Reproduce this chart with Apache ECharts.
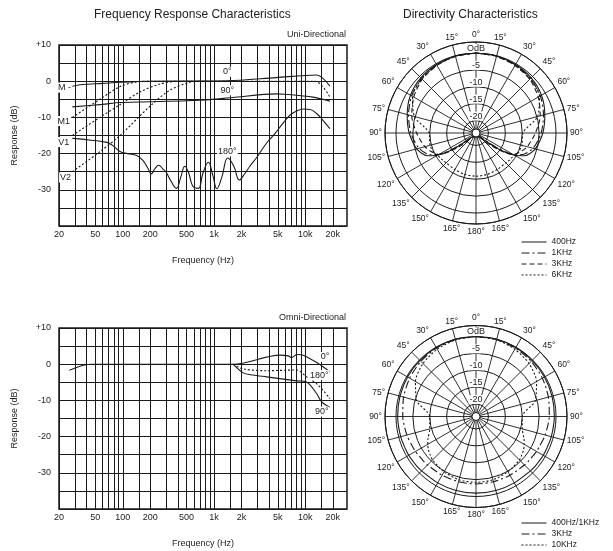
<!DOCTYPE html>
<html>
<head>
<meta charset="utf-8">
<script src="https://cdn.jsdelivr.net/npm/echarts@6/dist/echarts.min.js"></script>
<style>
html, body { margin: 0; padding: 0; background: #fff; }
#main { width: 613px; height: 551px; }
</style>
</head>
<body>
<div id="main"></div>
<script>
// frequency axis: labelled ticks and the log-paper lines
var tickFreqs = [20, 50, 100, 200, 500, 1000, 2000, 5000, 10000, 20000];
var tickLabels = ['20', '50', '100', '200', '500', '1k', '2k', '5k', '10k', '20k'];
var gridFreqs = [20, 30, 40, 50, 60, 70, 80, 90, 100, 150, 200, 300, 400, 500, 600, 700, 800, 900,
    1000, 1500, 2000, 3000, 4000, 5000, 6000, 7000, 8000, 9000, 10000, 15000, 20000];
var dbTicks = [10, 0, -10, -20, -30];

// uni-directional response [Hz, dB]
var uni0 = [[28, -1.4], [36, -0.9], [60, -0.6], [93, -0.3], [200, 0], [1400, 0.1], [4800, 1.0], [13300, 1.7], [18600, -1.4]];
var uni90 = [[28, -7.1], [60, -6.4], [93, -5.9], [500, -5.4], [900, -5.1], [1600, -4.5], [4800, -3.5], [6000, -3.6], [12100, -4.4], [18600, -5.5]];
var uni180 = [[28, -15.8], [45, -16.3], [67, -16.9], [78, -17.8], [93, -19.4], [113, -20], [142, -20.5], [165, -21.8],
    [190, -24.2], [205, -25.6], [224, -24.2], [248, -23.2], [274, -24.2], [296, -25], [336, -27.5], [386, -29.6],
    [432, -26.5], [478, -23.5], [529, -25.5], [585, -29], [672, -29.6], [753, -25.5], [865, -22.4], [969, -26],
    [1072, -29.7], [1216, -26.5], [1416, -21.2], [1647, -23.5], [1892, -27.3], [2174, -25.5], [2466, -23.5],
    [2944, -21], [3788, -17], [4638, -14.5], [5534, -12], [6770, -9.4], [8082, -8.2], [9642, -7.7],
    [11220, -7.8], [13390, -9], [15580, -10.8], [18590, -13.1]];
var cutM1 = [[28, -10], [56, -5], [93, -1.5], [135, -0.3], [197, 0], [12700, 0], [18600, -4.4]];
var cutV1 = [[28, -15], [56, -10], [93, -6.5], [153, -3], [254, -0.8], [371, 0]];
var cutV2 = [[28, -25], [56, -19.5], [93, -15], [197, -7], [327, -2.5], [542, -0.3], [698, 0]];

// omni-directional response [Hz, dB]
var omni0 = [[26, -1.7], [37, -0.3], [47, 0], [1620, 0], [5260, 2.5], [6490, 2.3], [7070, 1.8], [8020, 2.7], [9480, 2.5], [13840, 0.2], [18590, -2.1]];
var omni90 = [[1620, 0], [2080, -2.4], [2660, -3], [3760, -3.5], [8020, -4.6], [10320, -4.9], [13290, -8.1], [15080, -10.4], [18590, -11.9]];
var omni180 = [[1620, 0], [2080, -1.3], [3760, -1.8], [8020, -1.6], [10320, -3.5], [13840, -5.8], [18590, -9.5]];

// directivity, dB at each angle (mirrored for the other side)
var polarAngles = [0, 15, 30, 45, 60, 75, 90, 105, 115, 120, 125, 130, 135, 150, 165, 180];
var uni400 = [0, -0.1, -0.3, -0.6, -1.3, -2.6, -3.9, -5.5, -7.8, -10.5, -15, -20, -22, -22.5, -22.5, -22.5];
var uni1k = [0, -0.1, -0.4, -0.9, -1.7, -3.0, -4.4, -6.2, -8.6, -11, -16, -21, -22.5, -22.5, -22.5, -22.5];
var uni3k = [0, -0.2, -0.6, -1.2, -2.4, -4.0, -6.1, -8.0, -9.8, -11, -14, -18, -21, -22.5, -22.5, -22.5];
var uni6k = [0, -0.2, -0.5, -1.0, -2.0, -4.8, -9.8, -9.6, -10, -10.5, -10.8, -11, -11.2, -11.2, -11, -10.9];
var omni400 = [0, 0, -0.1, -0.2, -0.3, -0.4, -0.5, -0.6, -0.7, -0.7, -0.8, -0.8, -0.9, -1, -1, -1];
var omni3k = [0, -0.1, -0.3, -0.6, -1.0, -1.5, -2.0, -2.5, -2.9, -3.0, -3.2, -3.3, -3.4, -3.6, -3.7, -3.7];
var omni10k = [0, -0.2, -0.7, -1.5, -3.0, -5.5, -10, -9.5, -8, -7.2, -6.5, -6, -5.5, -4.8, -4.3, -4.2];
var ringValues = [0, -5, -10, -15, -20];
var ringNames = ['OdB', '-5', '-10', '-15', '-20'];

var FONT = 'Liberation Sans, Arial, sans-serif';
var INK = '#1a1a1a';
var NONE = 'rgba(0,0,0,0)';

function loop(p) {
    var out = [];
    polarAngles.forEach(function (a, i) { out.push([p[i], a]); });
    for (var i = polarAngles.length - 2; i >= 0; i--) out.push([p[i], 360 - polarAngles[i]]);
    return out;
}

function paperLines() {
    return {
        silent: true,
        animation: false,
        symbol: ['none', 'none'],
        lineStyle: { color: INK, width: 1, type: 'solid' },
        label: { show: false },
        data: gridFreqs.map(function (f) {
            var k = tickFreqs.indexOf(f);
            var item = { xAxis: f };
            if (k >= 0) {
                item.label = { show: true, position: 'start', distance: 4, formatter: tickLabels[k],
                    color: '#222', fontSize: 9, fontFamily: FONT };
            }
            return item;
        })
    };
}

function tags(list) {
    return {
        silent: true,
        animation: false,
        symbol: 'circle',
        symbolSize: 1,
        itemStyle: { color: NONE },
        label: { show: true, position: 'inside', formatter: '{b}', color: '#222', fontSize: 9,
            fontFamily: FONT, backgroundColor: '#fff', padding: [1, 1, 0, 1] },
        data: list
    };
}

function frLine(name, data, gi, dashed, extra) {
    var s = {
        name: name, type: 'line', xAxisIndex: gi, yAxisIndex: gi, data: data,
        symbol: 'none', showSymbol: false, smooth: 0.3, animation: false,
        itemStyle: { color: INK },
        lineStyle: { color: INK, width: 1.1, type: dashed ? [2, 2] : 'solid' }
    };
    for (var k in extra) s[k] = extra[k];
    return s;
}

function polarLine(name, pattern, pi, type) {
    return {
        name: name, type: 'line', coordinateSystem: 'polar', polarIndex: pi,
        data: loop(pattern), symbol: 'none', showSymbol: false, smooth: 0.25, animation: false,
        itemStyle: { color: NONE, borderWidth: 0 },
        lineStyle: { color: INK, width: 1.1, type: type }
    };
}

function xAx(gi) {
    return {
        gridIndex: gi, type: 'log', logBase: 10, min: 20, max: 28600,
        name: 'Frequency (Hz)', nameLocation: 'middle', nameGap: 30,
        nameTextStyle: { fontSize: 9, color: '#222', fontFamily: FONT },
        axisLine: { show: false }, axisTick: { show: false }, axisLabel: { show: false },
        splitLine: { show: false }
    };
}

function yAx(gi) {
    return {
        gridIndex: gi, type: 'value', min: -40, max: 10, interval: 5,
        name: 'Response (dB)', nameLocation: 'middle', nameGap: 40, nameRotate: 90,
        nameTextStyle: { fontSize: 9, color: '#222', fontFamily: FONT },
        axisLine: { show: false }, axisTick: { show: false },
        axisLabel: {
            margin: 8, fontSize: 9, color: '#222', fontFamily: FONT,
            formatter: function (v) {
                if (dbTicks.indexOf(v) < 0) return '';
                return v > 0 ? '+' + v : '' + v;
            }
        },
        splitLine: { show: true, lineStyle: { color: INK, width: 1 } }
    };
}

function angleAx(pi) {
    return {
        polarIndex: pi, type: 'value', min: 0, max: 360, interval: 15, startAngle: 90, clockwise: true,
        axisLine: { show: true, lineStyle: { color: INK, width: 1 } },
        axisTick: { show: false },
        axisLabel: {
            margin: 3, fontSize: 8.5, color: '#222', fontFamily: FONT,
            formatter: function (v) {
                if (v >= 360) return '';
                return (v > 180 ? 360 - v : v) + '°';
            }
        },
        splitLine: { show: true, lineStyle: { color: INK, width: 0.9 } }
    };
}

function radiusAx(pi) {
    return {
        polarIndex: pi, type: 'value', min: -22.5, max: 3.25, interval: 2.5,
        axisLine: { show: false }, axisTick: { show: false },
        axisLabel: {
            margin: 0, align: 'center', verticalAlign: 'bottom', fontSize: 9, color: '#222',
            fontFamily: FONT, backgroundColor: '#fff', padding: [0, 1, 0, 1],
            formatter: function (v) {
                for (var i = 0; i < ringValues.length; i++) {
                    if (Math.abs(v - ringValues[i]) < 1e-6) return ringNames[i];
                }
                return '';
            }
        },
        splitLine: { show: true, lineStyle: { color: [NONE, INK], width: 1 } }
    };
}

function legendBox(names, top) {
    return {
        data: names, orient: 'vertical', left: 521, top: top,
        itemWidth: 25, itemHeight: 10, itemGap: 1, padding: 0, selectedMode: false,
        itemStyle: { color: NONE, borderWidth: 0 },
        lineStyle: { width: 1 },
        formatter: function (n) { return n.replace(' (omni)', ''); },
        textStyle: { fontSize: 8.5, color: '#222', fontFamily: FONT, lineHeight: 10 }
    };
}

var chart = echarts.init(document.getElementById('main'), null, { renderer: 'canvas' });

var option = {
    animation: false,
    backgroundColor: '#fff',
    textStyle: { fontFamily: FONT },
    title: [
        { text: 'Frequency Response Characteristics', left: 94, top: 9, padding: 0,
          textStyle: { fontSize: 12, fontWeight: 'normal', color: '#222', fontFamily: FONT } },
        { text: 'Directivity Characteristics', left: 403, top: 9, padding: 0,
          textStyle: { fontSize: 12, fontWeight: 'normal', color: '#222', fontFamily: FONT } },
        { text: 'Uni-Directional', right: 267, top: 30, padding: 0,
          textStyle: { fontSize: 9, fontWeight: 'normal', color: '#222', fontFamily: FONT } },
        { text: 'Omni-Directional', right: 267, top: 313, padding: 0,
          textStyle: { fontSize: 9, fontWeight: 'normal', color: '#222', fontFamily: FONT } }
    ],
    grid: [
        { left: 59, top: 45, width: 288, height: 181, show: true, borderColor: INK, borderWidth: 1.5,
          backgroundColor: 'transparent', containLabel: false, outerBoundsMode: 'none' },
        { left: 59, top: 328, width: 288, height: 181, show: true, borderColor: INK, borderWidth: 1.5,
          backgroundColor: 'transparent', containLabel: false, outerBoundsMode: 'none' }
    ],
    xAxis: [xAx(0), xAx(1)],
    yAxis: [yAx(0), yAx(1)],
    polar: [
        { center: [476, 133], radius: [4, 91] },
        { center: [476, 416.5], radius: [4, 91] }
    ],
    angleAxis: [angleAx(0), angleAx(1)],
    radiusAxis: [radiusAx(0), radiusAx(1)],
    legend: [
        legendBox(['400Hz', '1KHz', '3KHz', '6KHz'], 237),
        legendBox(['400Hz/1KHz', '3KHz (omni)', '10KHz'], 518)
    ],
    series: [
        frLine('uni 0', uni0, 0, false, {
            markLine: paperLines(),
            markPoint: tags([{ name: '0°', coord: [1400, 2.6] }, { name: 'M -', coord: [23, -1.75] }])
        }),
        frLine('uni 90', uni90, 0, false, { markPoint: tags([{ name: '90°', coord: [1400, -2.5] }]) }),
        frLine('uni 180', uni180, 0, false, {
            smooth: 0.45,
            markPoint: tags([{ name: '180°', coord: [1400, -19.4] }, { name: 'V1', coord: [22.6, -16.8] }])
        }),
        frLine('cut M1', cutM1, 0, true, { markPoint: tags([{ name: 'M1', coord: [22.6, -11] }]) }),
        frLine('cut V1', cutV1, 0, true, {}),
        frLine('cut V2', cutV2, 0, true, { markPoint: tags([{ name: 'V2', coord: [23.6, -26.6] }]) }),

        frLine('omni 0', omni0, 1, false, {
            markLine: paperLines(),
            markPoint: tags([{ name: '0°', coord: [16400, 2.0] }])
        }),
        frLine('omni 90', omni90, 1, false, { markPoint: tags([{ name: '90°', coord: [15100, -13.1] }]) }),
        frLine('omni 180', omni180, 1, true, { markPoint: tags([{ name: '180°', coord: [14200, -3.0] }]) }),

        polarLine('400Hz', uni400, 0, 'solid'),
        polarLine('1KHz', uni1k, 0, [8, 3, 2, 3]),
        polarLine('3KHz', uni3k, 0, [5, 3]),
        polarLine('6KHz', uni6k, 0, [2, 2]),
        polarLine('400Hz/1KHz', omni400, 1, 'solid'),
        polarLine('3KHz (omni)', omni3k, 1, [8, 3, 2, 3]),
        polarLine('10KHz', omni10k, 1, [2, 2])
    ]
};

chart.setOption(option);
</script>
</body>
</html>
